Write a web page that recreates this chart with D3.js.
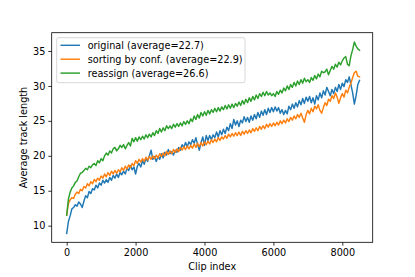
<!DOCTYPE html>
<html><head><meta charset="utf-8">
<script src="https://cdn.jsdelivr.net/npm/d3@7"></script>
<style>body{margin:0;background:#fff}svg{display:block}text{font-family:"DejaVu Sans",sans-serif}</style>
</head><body>
<script>
// clip index runs 0..8500 in steps of 50
const clipStep = 50;
const original = [
8.9,10.6,11.4,12.4,12.6,13.0,12.8,13.4,13.1,12.6,
13.5,14.3,14.0,14.9,14.6,15.3,15.1,15.8,15.4,16.1,
15.8,16.5,16.1,16.6,16.2,16.9,16.5,17.2,16.8,17.4,
16.9,17.6,17.3,17.8,17.4,18.2,17.9,18.6,18.0,18.4,
17.4,18.5,18.9,18.4,19.3,18.8,19.6,19.2,20.0,20.8,
19.5,19.9,19.2,19.9,19.5,20.3,19.7,20.5,20.1,20.9,
20.3,20.6,20.1,20.8,20.5,21.2,20.8,21.6,21.2,21.9,
21.3,22.0,21.6,22.3,21.8,22.6,21.6,20.8,21.9,22.7,
21.5,22.9,22.2,22.9,22.3,23.0,22.6,23.4,22.7,23.6,
23.0,23.8,23.2,24.1,23.6,24.6,23.9,25.2,24.4,25.0,
24.2,25.1,24.7,25.6,24.9,25.5,24.8,25.7,25.1,25.9,
25.3,26.2,25.5,26.4,25.8,26.6,25.9,26.8,26.2,26.9,
26.3,27.0,26.4,26.9,26.1,26.6,25.9,26.5,26.0,27.1,
26.6,27.4,26.8,27.6,27.0,27.9,27.3,28.2,27.5,28.4,
27.8,28.5,27.6,28.3,27.4,28.6,28.0,29.0,28.3,29.3,
28.7,29.8,29.2,28.6,29.5,28.9,29.8,29.2,30.2,29.5,
30.4,29.9,30.9,30.5,31.3,30.2,29.0,27.4,28.6,30.2,
30.8];
const sortingByConf = [
11.5,13.2,13.7,14.0,13.9,14.5,14.8,14.6,15.2,15.0,
15.6,15.4,16.0,15.7,16.3,16.0,16.6,16.3,16.8,16.5,
17.1,16.8,17.4,17.0,17.6,17.2,17.8,17.4,17.9,17.5,
18.0,17.7,18.3,17.9,18.5,18.1,18.7,18.3,18.9,18.6,
19.3,18.9,19.5,19.1,19.6,19.2,19.8,19.4,19.9,19.5,
20.0,19.6,20.1,19.7,20.3,19.9,20.4,20.0,20.6,20.2,
20.7,20.3,20.9,20.5,21.0,20.6,21.2,20.8,21.3,20.9,
21.4,21.0,21.5,21.1,21.7,21.2,21.8,21.3,21.9,21.4,
22.0,21.6,22.1,21.7,22.3,21.9,22.4,22.0,22.6,22.2,
22.7,22.4,22.9,22.5,23.1,22.7,23.2,22.8,23.3,22.9,
23.4,22.9,23.5,23.1,23.6,23.2,23.7,23.3,23.9,23.5,
24.0,23.6,24.2,23.8,24.3,23.9,24.5,24.1,24.6,24.2,
24.7,24.3,24.8,24.4,25.0,24.6,25.1,24.7,25.3,24.9,
25.5,25.1,25.7,25.3,25.9,25.5,26.1,25.4,24.8,25.9,
26.5,26.0,26.8,26.3,27.1,26.7,27.3,26.5,26.1,26.9,
27.6,27.2,28.1,27.8,28.6,28.2,29.0,28.4,27.5,28.3,
28.9,28.4,29.4,29.0,29.8,30.4,31.2,31.9,32.1,31.4,
31.3];
const reassign = [
11.5,13.8,14.8,15.4,15.7,16.2,16.4,17.0,17.5,17.6,
17.9,18.2,18.0,18.5,18.3,18.7,18.9,18.6,19.3,19.0,
19.6,19.3,20.0,20.4,20.1,20.7,20.4,21.0,21.2,20.7,
21.0,21.5,21.2,21.6,21.0,21.5,21.9,21.4,22.5,22.0,
22.6,22.1,22.7,22.3,22.8,22.4,23.0,22.6,23.1,22.7,
23.3,22.9,23.6,23.2,23.9,23.4,24.0,23.6,24.3,23.9,
24.3,23.9,24.5,24.1,24.6,24.2,24.7,24.3,24.9,24.5,
25.0,24.6,25.3,24.9,25.7,25.2,25.9,25.4,26.2,25.7,
26.3,25.8,26.5,26.0,26.6,26.2,26.8,26.3,26.9,26.4,
27.0,26.6,27.2,26.7,27.3,26.8,27.4,26.9,27.5,27.1,
27.7,27.2,27.9,27.4,28.1,27.6,28.3,27.8,28.5,28.0,
28.7,28.2,28.9,28.5,29.1,28.6,29.2,28.7,29.0,28.6,
28.9,28.5,29.2,28.8,29.4,29.0,29.7,29.3,30.0,29.5,
30.2,29.8,30.5,30.0,30.7,30.2,30.9,30.4,31.1,30.6,
30.9,30.5,31.2,30.8,31.5,31.0,31.7,31.3,32.1,31.9,
32.0,32.4,31.6,32.2,32.8,32.4,33.1,32.7,33.4,33.0,
33.6,34.0,34.2,33.1,32.9,34.3,35.2,36.3,35.7,35.3,
35.1];
const seriesNames = ["original (average=22.7)","sorting by conf. (average=22.9)","reassign (average=26.6)"];
const seriesColors = ["#1f77b4","#ff7f0e","#2ca02c"];
const xTicks = [0,2000,4000,6000,8000];
const yTicks = [10,15,20,25,30,35];

const W=415,H=277;
const svg=d3.select("body").append("svg").attr("width",W).attr("height",H);
const L=51.7,R=372.7,T=32.7,B=242.3;
const x=d3.scaleLinear().domain([-435,8882]).range([L,R]);
const y=d3.scaleLinear().domain([7.62,37.62]).range([B,T]);
const fs=9.7;

const xa=svg.append("g").attr("transform",`translate(0,${B})`)
  .call(d3.axisBottom(x).tickValues(xTicks).tickSize(3.4).tickPadding(3).tickFormat(d3.format("d")));
const ya=svg.append("g").attr("transform",`translate(${L},0)`)
  .call(d3.axisLeft(y).tickValues(yTicks).tickSize(3.4).tickPadding(3).tickFormat(d3.format("d")));
[xa,ya].forEach(a=>{a.select(".domain").remove();a.selectAll("line").attr("stroke","#000").attr("stroke-width",0.8);
  a.selectAll("text").attr("font-size",fs).attr("fill","#000").style("font-family","DejaVu Sans");});

const data=[original,sortingByConf,reassign];
const line=d3.line().x((d,i)=>x(i*clipStep)).y(d=>y(d));
svg.append("clipPath").attr("id","c").append("rect").attr("x",L).attr("y",T).attr("width",R-L).attr("height",B-T);
data.forEach((s,k)=>{
  svg.append("path").datum(s).attr("d",line).attr("fill","none").attr("stroke",seriesColors[k])
    .attr("stroke-width",1.45).attr("stroke-linejoin","round").attr("stroke-linecap","square").attr("clip-path","url(#c)");
});
svg.append("rect").attr("x",L).attr("y",T).attr("width",R-L).attr("height",B-T)
  .attr("fill","none").attr("stroke","#000").attr("stroke-width",0.8);

svg.append("text").attr("x",(L+R)/2).attr("y",270).attr("text-anchor","middle").attr("font-size",fs).text("Clip index");
svg.append("text").attr("transform",`translate(27,${(T+B)/2}) rotate(-90)`).attr("text-anchor","middle").attr("font-size",fs).text("Average track length");

// legend
const lg=svg.append("g");
lg.append("rect").attr("x",56.7).attr("y",37.7).attr("width",188.3).attr("height",45).attr("rx",2)
  .attr("fill","#fff").attr("fill-opacity",0.8).attr("stroke","#ccc").attr("stroke-width",0.8);
seriesNames.forEach((n,k)=>{
  const yy=45.3+k*13.9;
  lg.append("line").attr("x1",60.5).attr("x2",80).attr("y1",yy).attr("y2",yy).attr("stroke",seriesColors[k]).attr("stroke-width",1.45);
  lg.append("text").attr("x",87.7).attr("y",yy+3.5).attr("font-size",fs).text(n);
});
</script>
</body></html>
